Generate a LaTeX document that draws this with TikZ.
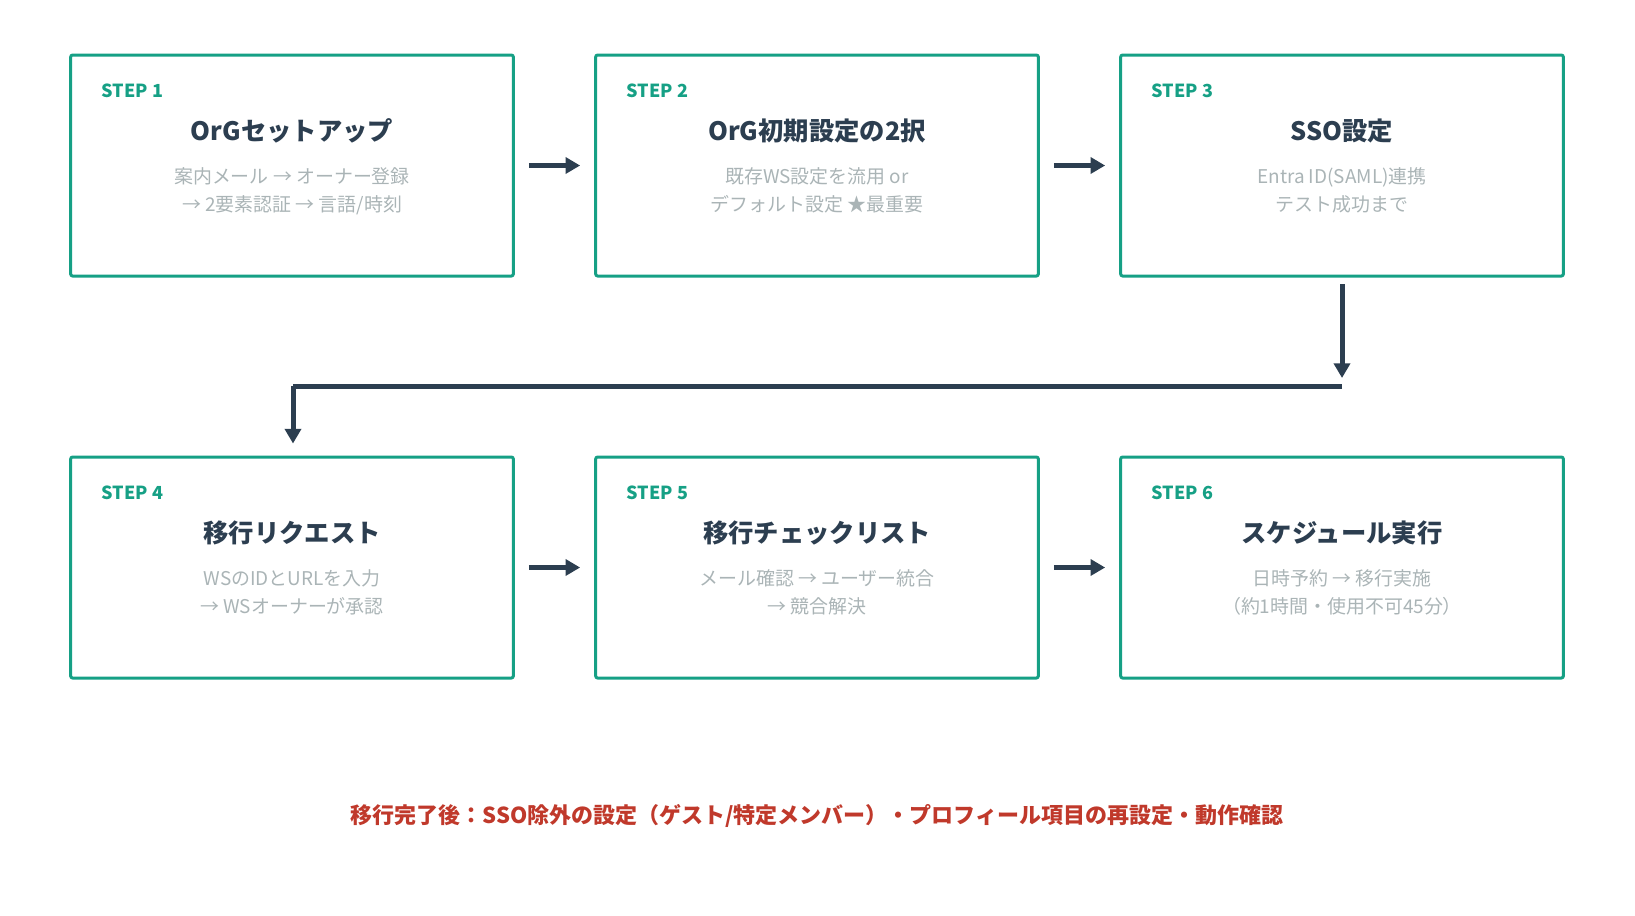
\documentclass[tikz,border=0pt]{standalone}
\usepackage{fontspec}
\setmainfont{Noto Sans CJK JP}
\usetikzlibrary{arrows.meta,positioning}
\definecolor{stepteal}{RGB}{22,160,133}
\definecolor{darkslate}{RGB}{44,62,80}
\definecolor{subgray}{RGB}{170,180,182}
\definecolor{notered}{RGB}{192,57,43}
\tikzset{
  stepbox/.style={draw=stepteal,line width=2.25pt,rounded corners=1.5pt,minimum width=332pt,minimum height=165.75pt,inner sep=0pt},
  steplabel/.style={text=stepteal,font=\fontsize{13.5}{16}\selectfont\bfseries,anchor=west},
  steptitle/.style={text=darkslate,font=\fontsize{19}{22}\selectfont\bfseries},
  stepsub/.style={text=subgray,font=\fontsize{14.2}{21}\selectfont,align=center,anchor=north},
  flow/.style={draw=darkslate,line width=3.75pt,-{Triangle[length=11pt,width=12pt]}},
  flowline/.style={draw=darkslate,line width=3.75pt}
}
\begin{document}
\begin{tikzpicture}[x=0.75pt,y=0.75pt,yscale=-1,xscale=1]
\useasboundingbox (0,0) rectangle (1635,915);

%Boxes
\node [stepbox] (b1) at (292,165.5) {};
\node [stepbox] (b2) at (817,165.5) {};
\node [stepbox] (b3) at (1342,165.5) {};
\node [stepbox] (b4) at (292,567.5) {};
\node [stepbox] (b5) at (817,567.5) {};
\node [stepbox] (b6) at (1342,567.5) {};

%Texts
\node [steplabel] (l1) at (97,91) {STEP 1};
\node [steptitle] (t1) at (292,131) {OrGセットアップ};
\node [stepsub] (s1) at (292,163) {案内メール → オーナー登録\\→ 2要素認証 → 言語/時刻};
\node [steplabel] (l2) at (622,91) {STEP 2};
\node [steptitle] (t2) at (817,131) {OrG初期設定の2択};
\node [stepsub] (s2) at (817,163) {既存WS設定を流用 or\\デフォルト設定 ★最重要};
\node [steplabel] (l3) at (1147,91) {STEP 3};
\node [steptitle] (t3) at (1342,131) {SSO設定};
\node [stepsub] (s3) at (1342,163) {Entra ID(SAML)連携\\テスト成功まで};
\node [steplabel] (l4) at (97,493) {STEP 4};
\node [steptitle] (t4) at (292,533) {移行リクエスト};
\node [stepsub] (s4) at (292,565) {WSのIDとURLを入力\\→ WSオーナーが承認};
\node [steplabel] (l5) at (622,493) {STEP 5};
\node [steptitle] (t5) at (817,533) {移行チェックリスト};
\node [stepsub] (s5) at (817,565) {メール確認 → ユーザー統合\\→ 競合解決};
\node [steplabel] (l6) at (1147,493) {STEP 6};
\node [steptitle] (t6) at (1342,533) {スケジュール実行};
\node [stepsub] (s6) at (1342,565) {日時予約 → 移行実施\\（約1時間・使用不可45分）};

%Footer
\node [text=notered,font=\fontsize{16.5}{19}\selectfont\bfseries] (note) at (817,816) {移行完了後：SSO除外の設定（ゲスト/特定メンバー）・プロフィール項目の再設定・動作確認};

%Connectors
\draw [flow,shorten <=10.5pt,shorten >=10.5pt] (b1.east) -- (b2.west);
\draw [flow,shorten <=10.5pt,shorten >=10.5pt] (b2.east) -- (b3.west);
\draw [flow,shorten <=10.5pt,shorten >=10.5pt] (b4.east) -- (b5.west);
\draw [flow,shorten <=10.5pt,shorten >=10.5pt] (b5.east) -- (b6.west);
\coordinate (j1) at (1342,386);
\coordinate (j2) at (293,386);
\draw [flow,shorten <=5pt,shorten >=6pt] (b3.south) -- (j1);
\draw [flowline] (j1) -- (j2);
\draw [flow,shorten >=9pt] (j2) -- (j2 |- b4.north);
\end{tikzpicture}
\end{document}
